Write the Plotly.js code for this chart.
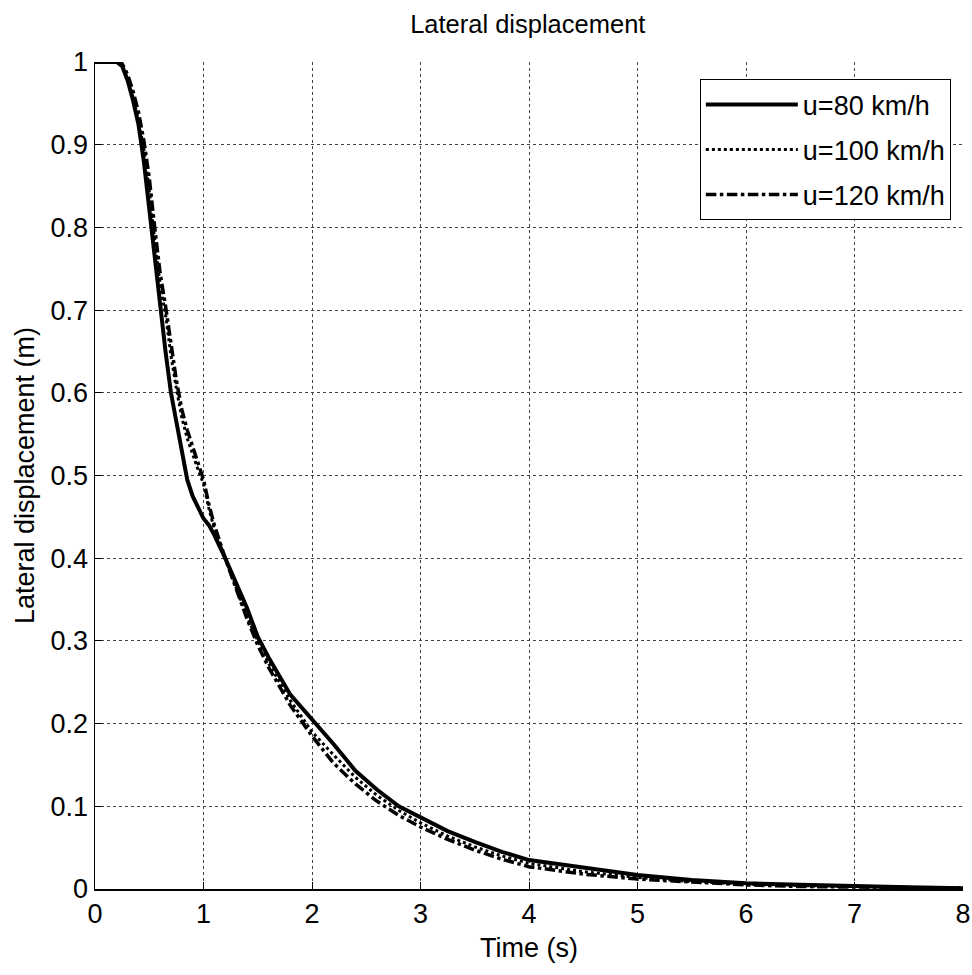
<!DOCTYPE html>
<html><head><meta charset="utf-8">
<script src="https://cdn.plot.ly/plotly-3.0.1.min.js"></script>
<style>html,body{margin:0;padding:0;background:#fff}</style>
</head><body><div id="chart" style="width:972px;height:975px"></div>
<script>
const time = [0,0.2,0.25,0.3,0.35,0.4,0.45,0.5,0.55,0.6,0.65,0.7,0.75,0.8,0.85,0.9,0.95,1.0,1.05,1.1,1.2,1.3,1.4,1.5,1.6,1.8,2.0,2.2,2.4,2.6,2.8,3.0,3.25,3.5,3.75,4.0,4.5,5.0,5.5,6.0,6.5,7.0,7.5,8.0];
const u80  = [1,1,0.995,0.978,0.954,0.925,0.88,0.82,0.765,0.70,0.65,0.60,0.565,0.53,0.495,0.475,0.462,0.448,0.44,0.428,0.40,0.37,0.34,0.305,0.28,0.235,0.205,0.175,0.143,0.12,0.10,0.087,0.07,0.057,0.045,0.035,0.026,0.017,0.011,0.007,0.005,0.003,0.002,0.001];
const u100 = [1,1,0.997,0.98,0.958,0.93,0.895,0.845,0.785,0.73,0.695,0.645,0.605,0.57,0.545,0.525,0.507,0.49,0.46,0.435,0.40,0.365,0.33,0.30,0.273,0.228,0.19,0.162,0.135,0.113,0.095,0.08,0.064,0.051,0.04,0.031,0.021,0.014,0.009,0.006,0.004,0.003,0.002,0.001];
const u120 = [1,1,0.998,0.985,0.965,0.94,0.905,0.86,0.80,0.745,0.705,0.66,0.615,0.58,0.555,0.535,0.515,0.495,0.465,0.44,0.40,0.362,0.327,0.295,0.268,0.222,0.185,0.152,0.127,0.106,0.089,0.075,0.06,0.047,0.036,0.027,0.018,0.012,0.008,0.005,0.003,0.002,0.001,0.001];
const names = ['u=80 km/h','u=100 km/h','u=120 km/h'];
const xTicks = [0,1,2,3,4,5,6,7,8];
const yTicks = [0,0.1,0.2,0.3,0.4,0.5,0.6,0.7,0.8,0.9,1];

const F = 'Liberation Sans, Arial, sans-serif';
const traces = [
  {x: time, y: u80, name: names[0], mode:'lines', line:{color:'#000', width:4, dash:'solid'}, legendgroup:'a'},
  {x: time, y: u100, name: names[1], mode:'lines', line:{color:'#000', width:3, dash:'dot'}, legendgroup:'b'},
  {x: time, y: u120, name: names[2], mode:'lines', line:{color:'#000', width:3.5, dash:'dashdot'}, legendgroup:'c'}
];
const axisCommon = {
  showline:true, linecolor:'#000', linewidth:1.5, mirror:false,
  showgrid:true, gridcolor:'#444', gridwidth:1, griddash:'3px,3px',
  ticks:'inside', ticklen:7, tickcolor:'#000',
  zeroline:false, tickfont:{family:F, size:27, color:'#000'}
};
const layout = {
  width:972, height:975,
  margin:{l:95, r:9, t:62, b:86},
  paper_bgcolor:'#fff', plot_bgcolor:'#fff',
  font:{family:F, color:'#000'},
  title:{text:'Lateral displacement', font:{family:F, size:25.5, color:'#000'}, x:0.543, xanchor:'center', y:0.975, yanchor:'middle'},
  xaxis: Object.assign({}, axisCommon, {range:[0,8], tickvals:xTicks, ticktext:xTicks.map(String),
    title:{text:'Time (s)', font:{family:F, size:27, color:'#000'}, standoff:10}}),
  yaxis: Object.assign({}, axisCommon, {range:[0,1], tickvals:yTicks, ticktext:yTicks.map(String),
    title:{text:'Lateral displacement (m)', font:{family:F, size:27, color:'#000'}, standoff:8}}),
  showlegend:true,
  legend:{x:0.986, xanchor:'right', y:0.979, yanchor:'top', bgcolor:'#fff', bordercolor:'#000', borderwidth:1,
    font:{family:F, size:27, color:'#000'}, traceorder:'grouped', tracegroupgap:7, itemwidth:92}
};
Plotly.newPlot('chart', traces, layout, {displayModeBar:false, staticPlot:true});
</script></body></html>
